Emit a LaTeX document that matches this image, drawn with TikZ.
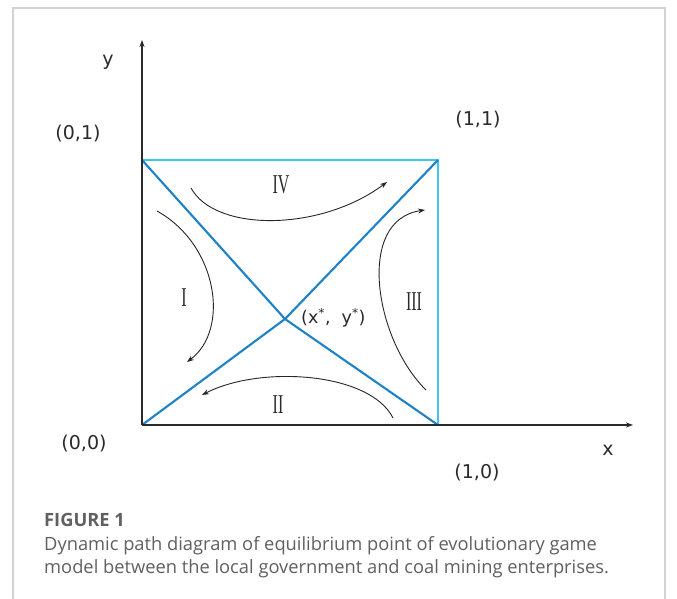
\documentclass[tikz,border=0pt]{standalone}
\usepackage{fontspec}
\setmainfont{Open Sans}
\newfontfamily\serifnum{Liberation Serif}
\newfontfamily\labfont{DejaVu Sans}
\usetikzlibrary{arrows.meta}
\definecolor{diagblue}{HTML}{1E82C8}
\definecolor{edgecyan}{HTML}{3EC6F0}
\definecolor{capgray}{HTML}{606060}
\definecolor{framegray}{HTML}{D2D2D2}
\definecolor{labdark}{HTML}{2A2A2A}
\tikzset{
  axisline/.style={draw=labdark, line width=1.1pt, -{Stealth[length=7pt,width=5pt]}},
  diagline/.style={draw=diagblue, line width=2.1pt},
  edgeline/.style={draw=edgecyan, line width=1.5pt},
  flow/.style={draw=black!85, line width=0.9pt, -{Stealth[length=7pt,width=5pt]}},
  coordlab/.style={text=labdark, font=\labfont\fontsize{19}{22}\selectfont, inner sep=0pt},
  roman/.style={text=labdark, font=\serifnum\fontsize{16}{18}\selectfont, inner sep=0pt},
}
\newcommand{\tallr}[1]{\scalebox{1}[1.7]{#1}}
\begin{document}
\begin{tikzpicture}[x=1pt, y=-1pt]
\useasboundingbox (0,0) rectangle (677,599);
\fill[white] (0,0) rectangle (677,599);
% outer frame
\draw[framegray, line width=1.5pt] (13,599) -- (13,8) -- (665,8) -- (665,599);

% corners and center
\coordinate (O) at (142,425);
\coordinate (A) at (438,425);
\coordinate (B) at (438,160);
\coordinate (C) at (142,160);
\coordinate (E) at (285,319);
\coordinate (ytip) at (142,40);
\coordinate (xtip) at (633,425);

% square edges
\draw[edgeline] (C) -- (B) -- (A);
% diagonals through the equilibrium point
\draw[diagline] (C) -- (E) -- (A);
\draw[diagline] (O) -- (E) -- (B);
% axes
\draw[axisline] (O) -- (ytip);
\draw[axisline] (O) -- (xtip);
\draw[draw=labdark, line width=1.1pt] (O) -- (C);

% flow curves
\coordinate (s4) at (191,188); \coordinate (e4) at (387,182);
\coordinate (s1) at (157,211); \coordinate (e1) at (187,362);
\coordinate (s3) at (426,390); \coordinate (e3) at (425,210);
\coordinate (s2) at (393,418); \coordinate (e2) at (202,395);
\draw[flow] (s4) .. controls (215,232) and (320,232) .. (e4);
\draw[flow] (s1) .. controls (218,245) and (230,330) .. (e1);
\draw[flow] (s3) .. controls (375,340) and (355,220) .. (e3);
\draw[flow] (s2) .. controls (370,372) and (260,365) .. (e2);

% labels
\node[coordlab] (ly) at (108,62) {y};
\node[coordlab] (l01) at (78,134) {(0,1)};
\node[coordlab] (l11) at (478,120) {(1,1)};
\node[coordlab] (l00) at (84,444) {(0,0)};
\node[coordlab] (lx) at (608,450) {x};
\node[coordlab] (l10) at (477,473) {(1,0)};
\node[coordlab, anchor=west, font=\labfont\fontsize{17.5}{20}\selectfont] (leq) at (301,318) {(x\textsuperscript{*},\ \ y\textsuperscript{*})};

\node[roman] (r4) at (281,185) {\tallr{IV}};
\node[roman] (r1) at (184,298) {\tallr{I}};
\node[roman] (r3) at (414,302) {\tallr{III}};
\node[roman] (r2) at (278,405) {\tallr{II}};

% caption
\node[anchor=west, inner sep=0pt, text=capgray, font=\fontsize{18.3}{20}\selectfont\bfseries] (fig) at (44,520) {FIGURE 1};
\node[anchor=north west, inner sep=0pt, text=capgray, align=left, font=\fontsize{18.3}{23}\selectfont] (cap) at (44,536)
{Dynamic path diagram of equilibrium point of evolutionary game\\model between the local government and coal mining enterprises.};
\end{tikzpicture}
\end{document}
